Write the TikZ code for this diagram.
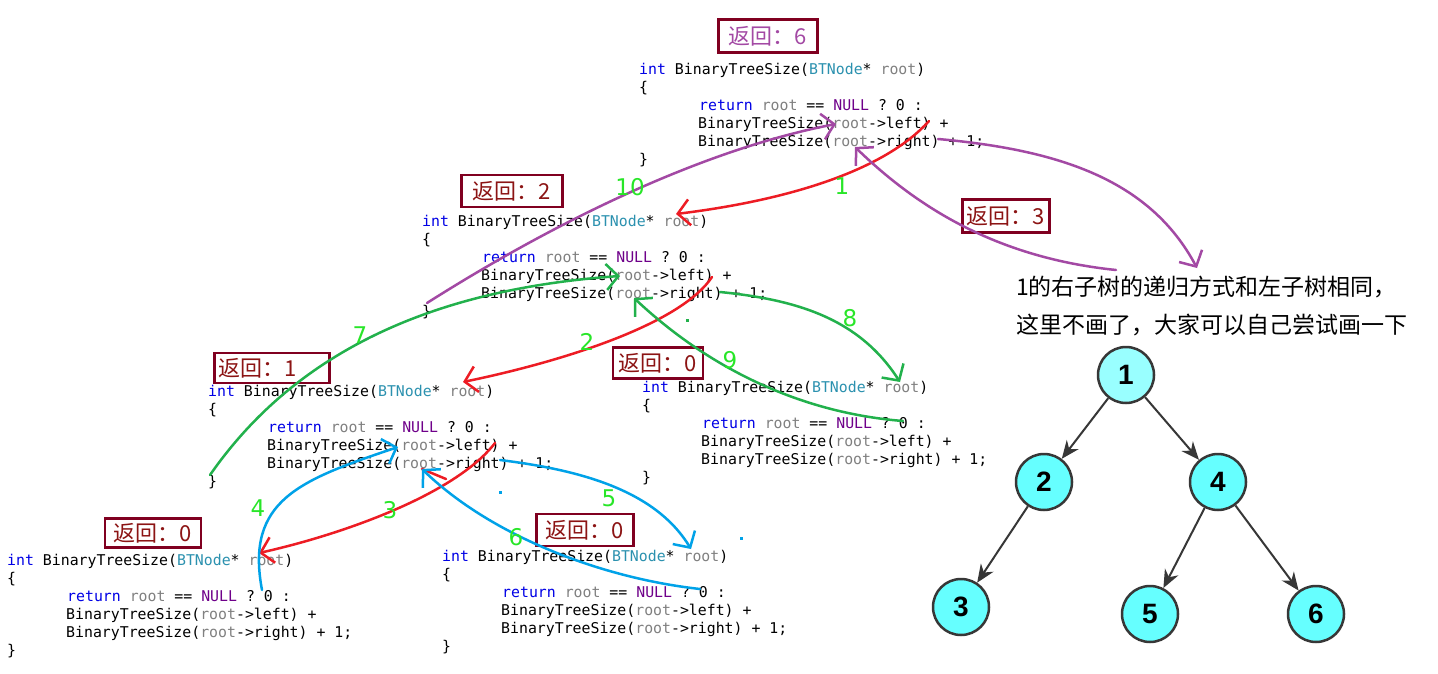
\documentclass[tikz,border=0pt]{standalone}
\usepackage{fontspec}
\setmainfont{DejaVu Sans}
\newfontfamily\codefont{DejaVu Sans Mono}
\newfontfamily\cjkfont{Noto Sans CJK SC}
\newfontfamily\treefont{Liberation Sans}
\usetikzlibrary{arrows.meta}
\definecolor{kwBlue}{RGB}{0,0,230}
\definecolor{typeTeal}{RGB}{43,145,175}
\definecolor{varGray}{RGB}{128,128,128}
\definecolor{nullPurple}{RGB}{111,0,138}
\definecolor{boxRed}{RGB}{128,0,32}
\definecolor{retText}{RGB}{140,20,20}
\definecolor{callRed}{RGB}{237,28,36}
\definecolor{retGreen}{RGB}{34,177,76}
\definecolor{callBlue}{RGB}{0,162,232}
\definecolor{penPurple}{RGB}{163,73,164}
\definecolor{stepLime}{RGB}{40,230,40}
\definecolor{nodeCyan}{RGB}{102,255,255}
\definecolor{rootCyan}{RGB}{153,255,255}
\definecolor{edgeGray}{RGB}{55,55,55}

\newcommand{\kwd}[1]{\textcolor{kwBlue}{#1}}
\newcommand{\typname}[1]{\textcolor{typeTeal}{#1}}
\newcommand{\varname}[1]{\textcolor{varGray}{#1}}
\newcommand{\nullkw}[1]{\textcolor{nullPurple}{#1}}

% one call of BinaryTreeSize, six lines
\newcommand{\codeblock}[3]{%
  \node[codeline] (#1-1) at (#2,#3)       {\kwd{int} BinaryTreeSize(\typname{BTNode}* \varname{root})};
  \node[codeline] (#1-2) at (#2,#3+18)    {\{};
  \node[codeline] (#1-3) at (#2+60,#3+36) {\kwd{return} \varname{root} == \nullkw{NULL} ? 0 :};
  \node[codeline] (#1-4) at (#2+59,#3+54) {BinaryTreeSize(\varname{root}->left) +};
  \node[codeline] (#1-5) at (#2+59,#3+72) {BinaryTreeSize(\varname{root}->right) + 1;};
  \node[codeline] (#1-6) at (#2,#3+90)    {\}};
}

\tikzset{
  codeline/.style={anchor=mid west, yshift=-3.5pt, inner sep=0pt, font=\codefont\fontsize{14.85}{18}\selectfont},
  retbox/.style={draw=boxRed, line width=2.5pt, text=retText, inner xsep=2pt, inner ysep=0pt,
    minimum height=31pt, font=\cjkfont\fontsize{22}{22}\selectfont},
  note/.style={anchor=west, inner sep=0pt, font=\cjkfont\fontsize{23}{23}\selectfont},
  steplabel/.style={text=stepLime, inner sep=0pt, font=\fontsize{23}{23}\selectfont},
  treenode/.style={circle, draw=edgeGray, line width=2.5pt, fill=nodeCyan, minimum size=56pt,
    inner sep=0pt, font=\treefont\bfseries\fontsize{28}{28}\selectfont},
  treeedge/.style={draw=edgeGray, line width=2pt, -{Stealth[length=18pt,width=15pt]}},
  pen/.style={line width=2.5pt, line cap=round, line join=round},
  penarrow/.style={pen, -{Straight Barb[length=12pt,width=26pt]}}
}

\begin{document}
\begin{tikzpicture}[x=1pt, y=-1pt]
  \fill[white] (0,0) rectangle (1438,674);
  \useasboundingbox (0,0) rectangle (1438,674);

  % the six calls
  \codeblock{A}{639}{68}
  \codeblock{B}{422}{220}
  \codeblock{C}{208}{390}
  \codeblock{D}{642}{386}
  \codeblock{E}{7}{559}
  \codeblock{F}{442}{555}

  % returned values
  \node[retbox, text=penPurple, minimum width=99pt, minimum height=33pt] (ret6) at (768,36) {返回：6};
  \node[retbox, minimum width=101pt, minimum height=32pt] (ret2) at (512,191) {返回：2};
  \node[retbox, anchor=west, text width=107pt, align=left, inner xsep=4pt, minimum height=30pt] (ret1) at (213,368) {返回：1};
  \node[retbox, minimum width=90pt] (ret0d) at (658,363) {返回：0};
  \node[retbox, minimum width=96pt, minimum height=29pt] (ret0e) at (153,533) {返回：0};
  \node[retbox, minimum width=97pt, minimum height=32pt] (ret0f) at (585,530) {返回：0};
  \node[retbox, minimum width=87pt, minimum height=33pt] (ret3) at (1006,216) {返回：3};

  % note on the right
  \node[note] (note1) at (1016,287) {1的右子树的递归方式和左子树相同，};
  \node[note] (note2) at (1016,325) {这里不画了，大家可以自己尝试画一下};

  % the tree
  \node[treenode, fill=rootCyan] (t1) at (1126,375) {1};
  \node[treenode] (t2) at (1044,482) {2};
  \node[treenode] (t4) at (1218,482) {4};
  \node[treenode] (t3) at (961,607)  {3};
  \node[treenode] (t5) at (1150,614) {5};
  \node[treenode] (t6) at (1316,614) {6};
  \draw[treeedge] (t1) -- (t2);
  \draw[treeedge] (t1) -- (t4);
  \draw[treeedge] (t2) -- (t3);
  \draw[treeedge] (t4) -- (t5);
  \draw[treeedge] (t4) -- (t6);

  % ends of the hand drawn arrows
  \coordinate (A-call)   at (929,121);
  \coordinate (A-left)   at (836,124);
  \coordinate (A-right)  at (938,139);
  \coordinate (A-back)   at (855,147);
  \coordinate (B-head)   at (676,214);
  \coordinate (B-call)   at (712,277);
  \coordinate (B-left)   at (620,276);
  \coordinate (B-right)  at (720,292);
  \coordinate (B-back)   at (634,298);
  \coordinate (B-end)    at (427,303);
  \coordinate (C-head)   at (463,382);
  \coordinate (C-call)   at (495,443);
  \coordinate (C-left)   at (398,447);
  \coordinate (C-right)  at (500,460);
  \coordinate (C-back)   at (422,469);
  \coordinate (C-mark)   at (446,479);
  \coordinate (C-end)    at (210,475);
  \coordinate (D-head)   at (900,382);
  \coordinate (D-ret)    at (903,421);
  \coordinate (E-head)   at (259,553);
  \coordinate (E-ret)    at (262,590);
  \coordinate (F-head)   at (691,549);
  \coordinate (F-ret)    at (700,589);
  \coordinate (note-tip) at (1197,268);
  \coordinate (note-ret) at (1116,270);

  % calls (red)
  \draw[penarrow, callRed] (A-call) .. controls (885,170) and (790,200) .. (B-head);
  \draw[penarrow, callRed] (B-call) .. controls (680,325) and (560,362) .. (C-head);
  \draw[penarrow, callRed] (C-call) .. controls (455,495) and (340,535) .. (E-head);
  \draw[pen, callRed] (C-mark) -- (C-back);
  % left subtree of 2 (blue)
  \draw[penarrow, callBlue] (E-ret) .. controls (245,500) and (300,480) .. (C-left);
  \draw[penarrow, callBlue] (C-right) .. controls (580,470) and (655,490) .. (F-head);
  \draw[penarrow, callBlue] (F-ret) .. controls (600,578) and (490,535) .. (C-back);
  % back in 1's left child (green)
  \draw[penarrow, retGreen] (C-end) .. controls (290,360) and (420,290) .. (B-left);
  \draw[penarrow, retGreen] (B-right) .. controls (800,300) and (860,320) .. (D-head);
  \draw[penarrow, retGreen] (D-ret) .. controls (790,412) and (700,360) .. (B-back);
  % back at the root (purple)
  \draw[penarrow, penPurple] (B-end) .. controls (550,225) and (700,150) .. (A-left);
  \draw[penarrow, penPurple] (A-right) .. controls (1060,150) and (1150,180) .. (note-tip);
  \draw[penarrow, penPurple] (note-ret) .. controls (1000,258) and (920,210) .. (A-back);

  % stray pen dots
  \fill[retGreen] (685.5,318.5) rectangle ++(3,3);
  \fill[callBlue] (498.5,490.5) rectangle ++(3,3);
  \fill[callBlue] (739.5,536.5) rectangle ++(3,3);

  % order of the steps
  \node[steplabel] (s1)  at (842,186) {1};
  \node[steplabel] (s2)  at (587,342) {2};
  \node[steplabel] (s3)  at (390,510) {3};
  \node[steplabel] (s4)  at (258,508) {4};
  \node[steplabel] (s5)  at (609,498) {5};
  \node[steplabel] (s6)  at (516,537) {6};
  \node[steplabel] (s7)  at (360,335) {7};
  \node[steplabel] (s8)  at (850,318) {8};
  \node[steplabel] (s9)  at (730,360) {9};
  \node[steplabel] (s10) at (630,187) {10};
\end{tikzpicture}
\end{document}
